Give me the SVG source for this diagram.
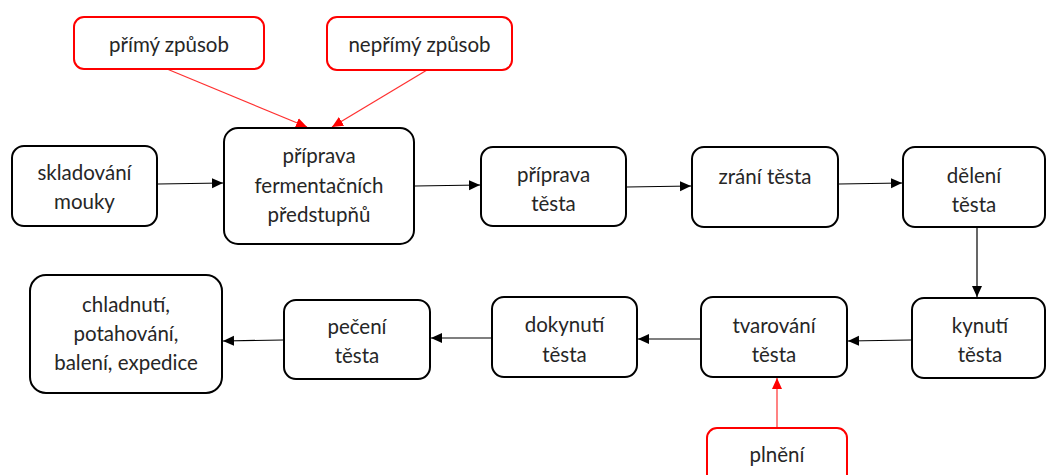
<svg xmlns="http://www.w3.org/2000/svg" width="1046" height="475" viewBox="0 0 1046 475">
<style>
.n{fill:#fff;stroke:#000;stroke-width:2}
.r{fill:#fff;stroke:#ff0000;stroke-width:2}
text{font-family:Lato,"Open Sans","Liberation Sans",sans-serif;font-size:20.5px;fill:#262626;text-anchor:middle}
.c{stroke:#000;stroke-width:1.2;fill:none;marker-end:url(#ab)}
.cr{stroke:#ff3030;stroke-width:1.2;fill:none;marker-end:url(#ar)}
</style>
<defs>
<marker id="ab" markerUnits="userSpaceOnUse" markerWidth="12" markerHeight="12" viewBox="0 0 12 12" refX="11" refY="6" orient="auto"><path d="M0,1 L11,6 L0,11 Z" fill="#000"/></marker>
<marker id="ar" markerUnits="userSpaceOnUse" markerWidth="12" markerHeight="12" viewBox="0 0 12 12" refX="11" refY="6" orient="auto"><path d="M0,1 L11,6 L0,11 Z" fill="#ff0000"/></marker>
</defs>
<rect width="1046" height="475" fill="#fff"/>
<g id="connectors">
<line class="cr" x1="167" y1="69" x2="307" y2="127"/>
<line class="cr" x1="427" y1="70" x2="332" y2="127"/>
<line class="c" x1="158" y1="184" x2="223" y2="183"/>
<line class="c" x1="415" y1="186" x2="480" y2="185"/>
<line class="c" x1="627" y1="187" x2="691" y2="186"/>
<line class="c" x1="839" y1="184" x2="902" y2="183"/>
<line class="c" x1="977" y1="228" x2="977" y2="297"/>
<line class="c" x1="911" y1="340" x2="848" y2="341"/>
<line class="c" x1="700" y1="339" x2="638" y2="339"/>
<line class="c" x1="491" y1="338" x2="431" y2="338"/>
<line class="c" x1="283" y1="340" x2="223" y2="341"/>
<line class="cr" x1="777" y1="428" x2="777" y2="378"/>
</g>
<g id="primy"><rect class="r" x="74" y="17" width="190" height="52" rx="10"/><text x="169" y="52">přímý způsob</text></g>
<g id="neprimy"><rect class="r" x="327" y="17" width="185" height="53" rx="10"/><text x="419.5" y="52">nepřímý způsob</text></g>
<g id="skladovani"><rect class="n" x="12" y="146" width="145" height="80" rx="12"/><text x="84.5" y="180">skladování</text><text x="84.5" y="209">mouky</text></g>
<g id="fermentace"><rect class="n" x="224" y="128" width="190" height="116" rx="14"/><text x="319" y="163">příprava</text><text x="319" y="193">fermentačních</text><text x="319" y="222">předstupňů</text></g>
<g id="priprava"><rect class="n" x="481" y="147" width="145" height="79" rx="12"/><text x="553.5" y="182">příprava</text><text x="553.5" y="211">těsta</text></g>
<g id="zrani"><rect class="n" x="692" y="147" width="146" height="80" rx="12"/><text x="765" y="184">zrání těsta</text></g>
<g id="deleni"><rect class="n" x="903" y="147" width="142" height="80" rx="12"/><text x="974" y="183">dělení</text><text x="974" y="212">těsta</text></g>
<g id="kynuti"><rect class="n" x="912" y="298" width="133" height="80" rx="12"/><text x="980" y="333">kynutí</text><text x="980" y="362">těsta</text></g>
<g id="tvarovani"><rect class="n" x="701" y="297" width="146" height="80" rx="12"/><text x="774" y="333">tvarování</text><text x="774" y="362">těsta</text></g>
<g id="dokynuti"><rect class="n" x="492" y="297" width="145" height="80" rx="12"/><text x="564.5" y="332">dokynutí</text><text x="564.5" y="362">těsta</text></g>
<g id="peceni"><rect class="n" x="284" y="300" width="146" height="79" rx="12"/><text x="357" y="334">pečení</text><text x="357" y="363">těsta</text></g>
<g id="chladnuti"><rect class="n" x="30" y="275" width="192" height="118" rx="16"/><text x="126" y="312">chladnutí,</text><text x="126" y="341">potahování,</text><text x="126" y="370">balení, expedice</text></g>
<g id="plneni"><rect class="r" x="707" y="428" width="140" height="62" rx="10"/><text x="777" y="462">plnění</text></g>
</svg>
